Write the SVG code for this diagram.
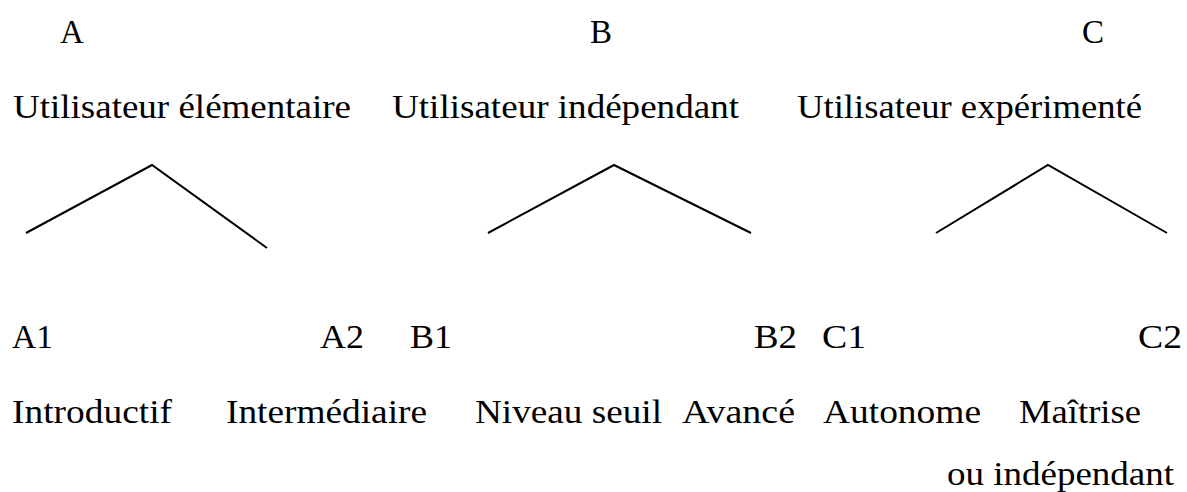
<svg xmlns="http://www.w3.org/2000/svg" width="1187" height="492" viewBox="0 0 1187 492">
<style>
text{font-family:"Liberation Serif","Times New Roman",serif;font-size:33px;fill:#000}
.ln{fill:none;stroke:#000;stroke-width:2}
</style>
<rect width="1187" height="492" fill="#fff"/>
<g id="nodeA"><text x="60" y="43">A</text><text x="13" y="118" textLength="338" lengthAdjust="spacingAndGlyphs">Utilisateur élémentaire</text></g>
<g id="nodeB"><text x="590" y="43">B</text><text x="392" y="118" textLength="347" lengthAdjust="spacingAndGlyphs">Utilisateur indépendant</text></g>
<g id="nodeC"><text x="1082" y="43">C</text><text x="797" y="118" textLength="345" lengthAdjust="spacingAndGlyphs">Utilisateur expérimenté</text></g>
<g id="nodeA1"><text x="12" y="348" textLength="41" lengthAdjust="spacingAndGlyphs">A1</text><text x="12" y="423" textLength="160" lengthAdjust="spacingAndGlyphs">Introductif</text></g>
<g id="nodeA2"><text x="320" y="348" textLength="44" lengthAdjust="spacingAndGlyphs">A2</text><text x="226" y="423" textLength="201" lengthAdjust="spacingAndGlyphs">Intermédiaire</text></g>
<g id="nodeB1"><text x="410" y="348" textLength="42" lengthAdjust="spacingAndGlyphs">B1</text><text x="475" y="423" textLength="187" lengthAdjust="spacingAndGlyphs">Niveau seuil</text></g>
<g id="nodeB2"><text x="754" y="348" textLength="43" lengthAdjust="spacingAndGlyphs">B2</text><text x="682" y="423" textLength="113" lengthAdjust="spacingAndGlyphs">Avancé</text></g>
<g id="nodeC1"><text x="822" y="348" textLength="44" lengthAdjust="spacingAndGlyphs">C1</text><text x="823" y="423" textLength="158" lengthAdjust="spacingAndGlyphs">Autonome</text></g>
<g id="nodeC2"><text x="1138" y="348" textLength="44" lengthAdjust="spacingAndGlyphs">C2</text><text x="1019" y="423" textLength="122" lengthAdjust="spacingAndGlyphs">Maîtrise</text><text x="947" y="485" textLength="227" lengthAdjust="spacingAndGlyphs">ou indépendant</text></g>
<g id="connectors">
<polyline class="ln" points="26,233 152,165 267,248"/>
<polyline class="ln" points="488,233 614,165 751,233"/>
<polyline class="ln" points="936,233 1048,165 1167,233"/>
</g>
</svg>
